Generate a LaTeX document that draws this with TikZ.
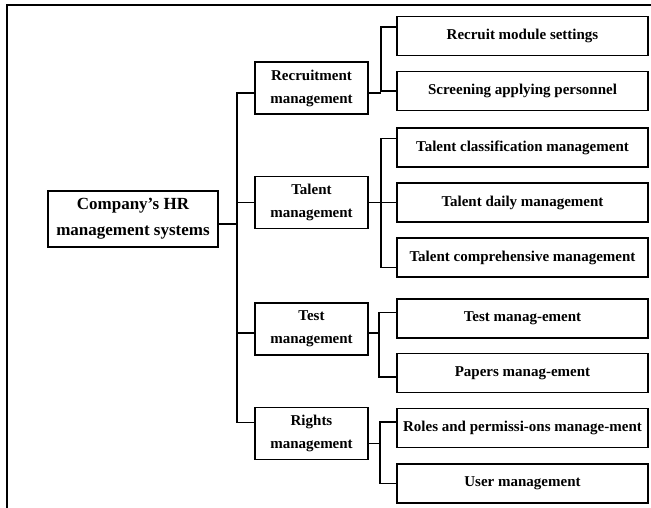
\documentclass[tikz,border=0pt]{standalone}
\usepackage{fontspec}
\setmainfont{Liberation Serif}
\usetikzlibrary{positioning}

\begin{document}
\begin{tikzpicture}[x=1pt,y=-1pt,line width=1.1pt,
  every node/.style={draw,align=center,line width=1.1pt,inner sep=2pt,
    font=\fontsize{15}{23}\selectfont\bfseries},
  topbox/.style={minimum width=170pt,minimum height=56pt,
    font=\fontsize{17}{26}\selectfont\bfseries},
  midbox/.style={minimum width=113pt,minimum height=52pt},
  leafbox/.style={minimum width=251pt,minimum height=39pt}
]
\useasboundingbox (0,0) rectangle (651,508);
\draw[line width=1.5pt] (7,5) rectangle (664,521);

\node[topbox] (root) at (133,219) {Company’s HR\\management systems};

\node[midbox] (rec) at (311.5,88) {Recruitment\\management};
\node[midbox] (tal) at (311.5,202.5) {Talent\\management};
\node[midbox] (tst) at (311.5,329) {Test\\management};
\node[midbox] (rgt) at (311.5,433.5) {Rights\\management};

\node[leafbox] (rs1) at (522.5,36) {Recruit module settings};
\node[leafbox] (rs2) at (522.5,91) {Screening applying personnel};
\node[leafbox] (ts1) at (522.5,147.5) {Talent classification management};
\node[leafbox] (ts2) at (522.5,202.5) {Talent daily management};
\node[leafbox] (ts3) at (522.5,257.5) {Talent comprehensive management};
\node[leafbox] (es1) at (522.5,318.5) {Test manag-ement};
\node[leafbox] (es2) at (522.5,373) {Papers manag-ement};
\node[leafbox] (gs1) at (522.5,428) {Roles and permissi-ons manage-ment};
\node[leafbox] (gs2) at (522.5,483.5) {User management};

\coordinate (trunk) at (237,200);
\coordinate (recj) at (381,60);
\coordinate (talj) at (381,200);
\coordinate (tstj) at (379,340);
\coordinate (rgtj) at (380,450);

% trunk
\draw ([yshift=-5pt]root.east) -- ([yshift=-5pt]root.east -| trunk);
\draw ([yshift=-5pt]rec.west) -| (trunk) |- ([yshift=11pt]rgt.west);
\draw (tal.west -| trunk) -- (tal.west);
\draw ([yshift=-4pt]tst.west -| trunk) -- ([yshift=-4pt]tst.west);

% branches
\draw ([yshift=-5pt]rec.east) -- ([yshift=-5pt]rec.east -| recj);
\draw ([yshift=9pt]rs1.west) -| (recj) |- (rs2.west);

\draw (tal.east) -- (tal.east -| talj);
\draw ([yshift=9pt]ts1.west) -| (talj) |- ([yshift=-10pt]ts3.west);
\draw (ts2.west -| talj) -- (ts2.west);

\draw ([yshift=-4pt]tst.east) -- ([yshift=-4pt]tst.east -| tstj);
\draw ([yshift=6pt]es1.west) -| (tstj) |- ([yshift=-4pt]es2.west);

\draw ([yshift=-10pt]rgt.east) -- ([yshift=-10pt]rgt.east -| rgtj);
\draw ([yshift=6pt]gs1.west) -| (rgtj) |- (gs2.west);
\end{tikzpicture}
\end{document}
